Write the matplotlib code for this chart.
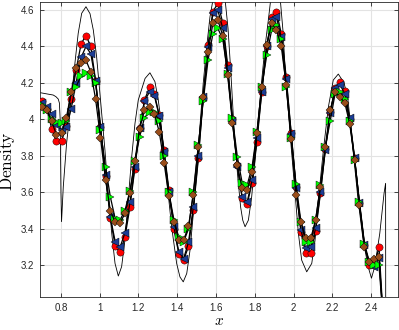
import numpy as np
import matplotlib
matplotlib.use("Agg")
import matplotlib.pyplot as plt

# grid used by the four schemes
x_num = [0.702, 0.727, 0.752, 0.777, 0.803, 0.828, 0.853, 0.878, 0.904, 0.929,
         0.954, 0.979, 1.004, 1.030, 1.055, 1.080, 1.105, 1.130, 1.156, 1.181,
         1.206, 1.231, 1.257, 1.282, 1.307, 1.332, 1.357, 1.383, 1.408, 1.433,
         1.458, 1.483, 1.509, 1.534, 1.559, 1.584, 1.609, 1.635, 1.660, 1.685,
         1.710, 1.735, 1.761, 1.786, 1.811, 1.836, 1.862, 1.887, 1.912, 1.937,
         1.962, 1.988, 2.013, 2.038, 2.063, 2.089, 2.114, 2.139, 2.164, 2.189,
         2.214, 2.240, 2.265, 2.290, 2.315, 2.340, 2.366, 2.391, 2.416, 2.441,
         2.466]

rho_red = [4.10, 4.06, 3.95, 3.88, 3.88, 3.965, 4.11, 4.27, 4.415, 4.46,
           4.40, 4.21, 3.96, 3.69, 3.46, 3.305, 3.272, 3.354, 3.52, 3.73,
           3.951, 4.107, 4.176, 4.14, 4.024, 3.832, 3.613, 3.40, 3.265, 3.229,
           3.304, 3.503, 3.787, 4.12, 4.41, 4.59, 4.637, 4.53, 4.30, 4.00,
           3.75, 3.567, 3.536, 3.653, 3.878, 4.15, 4.40, 4.563, 4.59, 4.47,
           4.234, 3.924, 3.63, 3.382, 3.266, 3.269, 3.388, 3.597, 3.836, 4.04,
           4.17, 4.207, 4.155, 4.00, 3.79, 3.54, 3.311, 3.20, 3.20, 3.30,
           2.85]

rho_blue = [4.09, 4.07, 4.03, 3.97, 3.94, 3.96, 4.06, 4.20, 4.34, 4.40,
            4.36, 4.21, 3.96, 3.695, 3.465, 3.33, 3.30, 3.378, 3.545, 3.741,
            3.951, 4.10, 4.152, 4.13, 4.02, 3.82, 3.60, 3.41, 3.275, 3.238,
            3.327, 3.52, 3.80, 4.125, 4.399, 4.582, 4.60, 4.50, 4.28, 3.99,
            3.741, 3.576, 3.549, 3.668, 3.90, 4.152, 4.405, 4.55, 4.56, 4.45,
            4.22, 3.92, 3.622, 3.394, 3.293, 3.30, 3.403, 3.604, 3.832, 4.034,
            4.17, 4.19, 4.14, 4.006, 3.787, 3.54, 3.311, 3.211, 3.192, 3.24,
            2.85]

rho_brown = [4.07, 4.05, 3.99, 3.915, 3.925, 4.01, 4.15, 4.28, 4.31, 4.325,
             4.26, 4.11, 3.90, 3.67, 3.50, 3.437, 3.432, 3.485, 3.598, 3.77,
             3.95, 4.05, 4.07, 4.03, 3.933, 3.763, 3.578, 3.44, 3.337, 3.339,
             3.414, 3.588, 3.85, 4.125, 4.37, 4.527, 4.545, 4.46, 4.245, 3.98,
             3.75, 3.622, 3.613, 3.713, 3.924, 4.18, 4.408, 4.527, 4.49, 4.40,
             4.19, 3.891, 3.588, 3.44, 3.349, 3.349, 3.449, 3.631, 3.85, 4.05,
             4.15, 4.125, 4.089, 3.975, 3.78, 3.53, 3.30, 3.22, 3.238, 3.247,
             2.85]

rho_green = [4.08, 4.05, 4.00, 3.985, 3.98, 3.99, 4.15, 4.18, 4.24, 4.255,
             4.24, 4.20, 3.94, 3.74, 3.575, 3.455, 3.45, 3.50, 3.61, 3.77,
             3.905, 4.01, 4.04, 4.04, 3.99, 3.80, 3.60, 3.448, 3.354, 3.33,
             3.40, 3.60, 3.86, 4.10, 4.326, 4.47, 4.50, 4.44, 4.25, 4.006,
             3.796, 3.653, 3.64, 3.741, 3.93, 4.18, 4.353, 4.49, 4.518, 4.44,
             4.18, 3.90, 3.645, 3.44, 3.33, 3.33, 3.45, 3.64, 3.85, 3.99,
             4.14, 4.152, 4.11, 3.99, 3.78, 3.55, 3.32, 3.22, 3.20, 3.20,
             2.85]

# reference solution
x_ref = [0.692, 0.728, 0.760, 0.774, 0.786, 0.792, 0.796, 0.800, 0.803, 0.812,
         0.829, 0.850, 0.872, 0.889, 0.907, 0.929, 0.950, 0.967, 0.984, 1.001,
         1.027, 1.044, 1.062, 1.079, 1.096, 1.113, 1.130, 1.147, 1.165, 1.182,
         1.199, 1.234, 1.259, 1.285, 1.302, 1.311, 1.328, 1.346, 1.371, 1.397,
         1.414, 1.431, 1.449, 1.466, 1.483, 1.500, 1.517, 1.534, 1.552, 1.569,
         1.585, 1.600, 1.616, 1.631, 1.647, 1.662, 1.677, 1.693, 1.711, 1.727,
         1.738, 1.750, 1.767, 1.784, 1.801, 1.818, 1.836, 1.853, 1.870, 1.882,
         1.894, 1.907, 1.920, 1.933, 1.946, 1.956, 1.982, 2.008, 2.025, 2.042,
         2.068, 2.094, 2.111, 2.128, 2.154, 2.180, 2.205, 2.231, 2.261, 2.281,
         2.307, 2.333, 2.359, 2.385, 2.402, 2.419, 2.445, 2.467, 2.475, 2.476]
rho_ref = [4.147, 4.140, 4.134, 4.125, 4.112, 4.090, 4.000, 3.600, 3.440, 3.631,
           3.869, 4.070, 4.308, 4.472, 4.582, 4.618, 4.580, 4.490, 4.344, 4.143,
           3.832, 3.595, 3.376, 3.211, 3.142, 3.193, 3.339, 3.558, 3.796, 3.979,
           4.107, 4.225, 4.256, 4.207, 4.107, 4.035, 3.850, 3.668, 3.412, 3.211,
           3.137, 3.110, 3.156, 3.284, 3.485, 3.723, 3.960, 4.198, 4.399, 4.563,
           4.660, 4.715, 4.730, 4.710, 4.655, 4.500, 4.250, 3.950, 3.700, 3.520,
           3.448, 3.412, 3.448, 3.576, 3.777, 3.997, 4.216, 4.399, 4.545, 4.655,
           4.700, 4.720, 4.700, 4.640, 4.480, 4.289, 3.924, 3.595, 3.376, 3.229,
           3.165, 3.211, 3.339, 3.558, 3.832, 4.070, 4.216, 4.249, 4.200, 4.107,
           3.832, 3.558, 3.339, 3.193, 3.130, 3.193, 3.376, 3.595, 3.650, 2.500]

plt.rcParams['font.family'] = ['Liberation Sans', 'DejaVu Sans']
plt.rcParams['mathtext.fontset'] = 'cm'

fig = plt.figure(figsize=(3.99, 3.30), dpi=100)
ax = fig.add_axes([0.1003, 0.1, 0.8972, 0.894])

ax.plot(x_ref, rho_ref, '-', color='k', lw=0.6, zorder=2)

ms = 5.2
ax.plot(x_num, rho_red, '-', color='k', lw=0.9, marker='o', ms=ms,
        mfc='#ff0000', mec='k', mew=0.3, zorder=3)
ax.plot(x_num, rho_blue, '-', color='k', lw=0.9, marker='<', ms=ms,
        mfc='#1c3d94', mec='k', mew=0.3, zorder=4)
ax.plot(x_num, rho_green, '-', color='k', lw=0.9, marker='>', ms=ms,
        mfc='#00ff00', mec='k', mew=0.3, zorder=5)
ax.plot(x_num, rho_brown, '-', color='k', lw=0.9, marker='D', ms=4.2,
        mfc='#994d1a', mec='k', mew=0.3, zorder=6)

ax.set_xlim(0.692, 2.539)
ax.set_ylim(3.027, 4.644)
ax.set_xticks([0.8, 1, 1.2, 1.4, 1.6, 1.8, 2, 2.2, 2.4])
ax.set_xticklabels(['0.8', '1', '1.2', '1.4', '1.6', '1.8', '2', '2.2', '2.4'])
ax.set_yticks([3.2, 3.4, 3.6, 3.8, 4, 4.2, 4.4, 4.6])
ax.set_yticklabels(['3.2', '3.4', '3.6', '3.8', '4', '4.2', '4.4', '4.6'])

ax.grid(True, color='#e3e3e3', lw=0.8)
ax.set_axisbelow(True)
ax.tick_params(direction='in', length=3, width=0.6, colors='#262626',
               labelsize=7, top=True, right=True, pad=4)
for s in ax.spines.values():
    s.set_color('#262626')
    s.set_linewidth(0.6)

ax.set_xlabel(r'$x$', fontsize=11, labelpad=1)
ax.set_ylabel(r'$\mathrm{Density}$', fontsize=12.5)
ax.yaxis.set_label_coords(-0.063, 0.46)

fig.savefig('out.png', dpi=100)
